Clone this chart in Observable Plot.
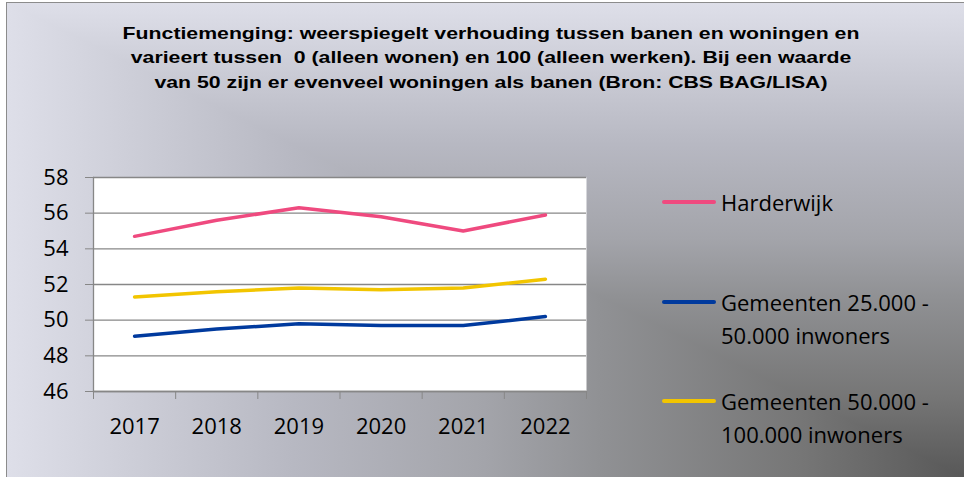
<!DOCTYPE html>
<html>
<head>
<meta charset="utf-8">
<script src="https://cdn.jsdelivr.net/npm/d3@7"></script>
<script src="https://cdn.jsdelivr.net/npm/@observablehq/plot@0.6"></script>
<style>
  html, body { margin: 0; padding: 0; background: #ffffff; }
  #wrap { position: relative; width: 964px; height: 477px; overflow: hidden; }
  .bg { position: absolute; left: 6px; top: 2px; width: 958px; height: 475px; }
  #bgV { background: linear-gradient(to bottom, #dedfe9 0%, #b7b8c2 30%, #a3a4aa 50%, #909194 62%, #767676 83%, #585858 100%); }
  #bgH { background: linear-gradient(to right, #dedfe9 0%, #b7b8c2 30%, #a3a4aa 50%, #909194 62%, #767676 83%, #585858 100%);
         clip-path: polygon(0 0, 100% 100%, 0 100%); }
  #border { position: absolute; left: 6px; top: 2px; width: 958px; height: 475px; box-sizing: border-box;
            border-left: 1px solid #8c8c8c; border-top: 1px solid #8c8c8c; }
  #title { position: absolute; left: 91px; top: 22px; width: 800px; text-align: center;
           font-family: "Liberation Sans", Arial, sans-serif; font-weight: bold; font-size: 17px; line-height: 24.3px;
           color: #000; white-space: nowrap; }
  #title div { transform: scaleX(1.25); transform-origin: 50% 50%; }
  #chart { position: absolute; left: 0; top: 0; }
  #legend { position: absolute; left: 662px; top: 0; font-family: "Open Sans", sans-serif; font-size: 22px; color: #000; }
  .item { position: absolute; left: 0; white-space: nowrap; }
  .swatch { position: absolute; left: 0; width: 54px; height: 3.5px; border-radius: 2px; }
  .lbl { position: absolute; left: 59px; line-height: 33px; }
</style>
</head>
<body>
<div id="wrap">
  <div class="bg" id="bgV"></div>
  <div class="bg" id="bgH"></div>
  <div id="border"></div>
  <div id="title"></div>
  <div id="chart"></div>
  <div id="legend"></div>
</div>
<script>
const titleLines = [
  "Functiemenging: weerspiegelt verhouding tussen banen en woningen en",
  "varieert tussen\u00a0 0 (alleen wonen) en 100 (alleen werken). Bij een waarde",
  "van 50 zijn er evenveel woningen als banen (Bron: CBS BAG/LISA)"
];
const years = [2017, 2018, 2019, 2020, 2021, 2022];
const seriesNames = ["Harderwijk", "Gemeenten 25.000 - 50.000 inwoners", "Gemeenten 50.000 - 100.000 inwoners"];
const legendLines = [["Harderwijk"], ["Gemeenten 25.000 -", "50.000 inwoners"], ["Gemeenten 50.000 -", "100.000 inwoners"]];
const seriesColors = ["#ef4a7f", "#003a9e", "#f2c500"];
const harderwijk = [54.7, 55.6, 56.3, 55.8, 55.0, 55.9];
const gem25to50 = [49.1, 49.5, 49.8, 49.7, 49.7, 50.2];
const gem50to100 = [51.3, 51.6, 51.8, 51.7, 51.8, 52.3];
const yTicks = [46, 48, 50, 52, 54, 56, 58];

const valueSets = [harderwijk, gem25to50, gem50to100];
const data = [];
seriesNames.forEach((s, i) => years.forEach((yr, j) => data.push({series: s, year: yr, value: valueSets[i][j]})));
const boundaries = [years[0] - 0.5, ...years.map(y => y + 0.5)];

const chart = Plot.plot({
  width: 964,
  height: 477,
  marginTop: 177,
  marginBottom: 86,
  marginLeft: 93,
  marginRight: 378,
  style: {background: "transparent", fontFamily: "'Open Sans', sans-serif", fontSize: "22px", color: "#000", overflow: "visible"},
  x: {domain: [boundaries[0], boundaries[boundaries.length - 1]]},
  y: {domain: [yTicks[0], yTicks[yTicks.length - 1]]},
  color: {domain: seriesNames, range: seriesColors},
  marks: [
    Plot.frame({fill: "white", stroke: null}),
    Plot.gridY({ticks: yTicks, stroke: "#878787", strokeOpacity: 1, strokeWidth: 1.3}),
    Plot.frame({anchor: "left", stroke: "#878787", strokeWidth: 1.3}),
    Plot.frame({anchor: "bottom", stroke: "#878787", strokeWidth: 1.3}),
    Plot.axisY({ticks: yTicks, tickSize: 8, tickPadding: 17, stroke: "#878787", fill: "#000", label: null, fontSize: 22}),
    Plot.axisX({ticks: boundaries, tickSize: 8, tickFormat: () => "", stroke: "#878787", label: null}),
    Plot.axisX({ticks: years, tickSize: 0, tickPadding: 27, tickFormat: d => String(d), fill: "#000", label: null, fontSize: 22}),
    Plot.line(data, {x: "year", y: "value", z: "series", stroke: "series", strokeWidth: 3.5, strokeLinecap: "round"})
  ]
});
document.getElementById("chart").appendChild(chart);

const t = document.getElementById("title");
titleLines.forEach(l => { const d = document.createElement("div"); d.textContent = l; t.appendChild(d); });

const lg = document.getElementById("legend");
const legendTops = [202, 302, 401];
legendLines.forEach((lines, i) => {
  const item = document.createElement("div");
  item.className = "item";
  item.style.top = legendTops[i] + "px";
  const sw = document.createElement("div");
  sw.className = "swatch";
  sw.style.background = seriesColors[i];
  sw.style.top = "-1.75px";
  item.appendChild(sw);
  const lb = document.createElement("div");
  lb.className = "lbl";
  lb.style.top = "-16.5px";
  lb.innerHTML = lines.join("<br>");
  item.appendChild(lb);
  lg.appendChild(item);
});
</script>
</body>
</html>
